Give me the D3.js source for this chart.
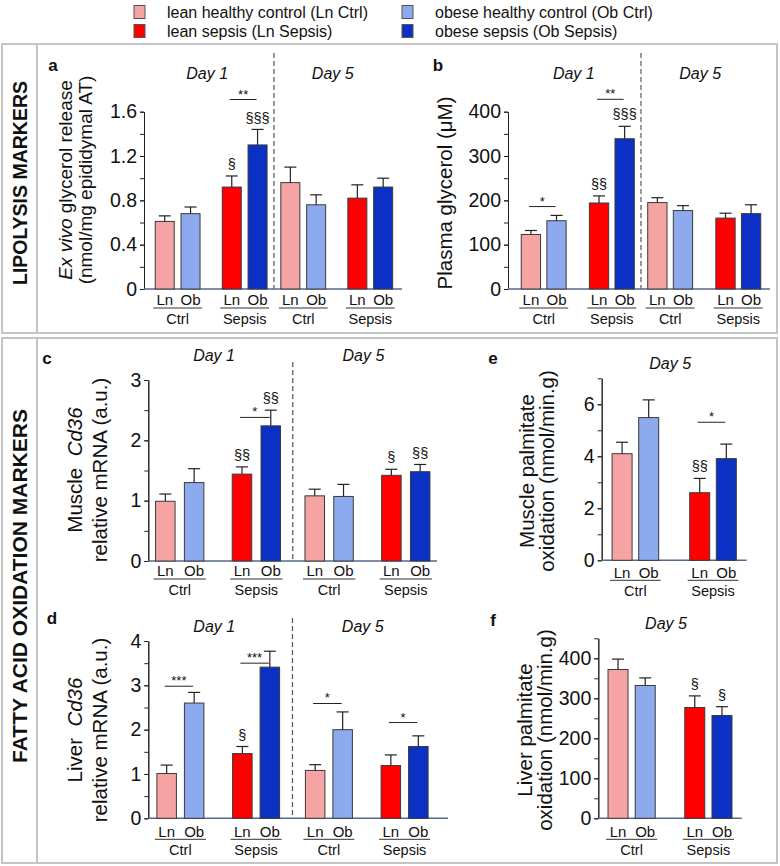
<!DOCTYPE html>
<html>
<head>
<meta charset="utf-8">
<script src="https://cdn.jsdelivr.net/npm/d3@7"></script>
<style>
  body { margin: 0; background: #fff; }
  svg text { font-family: "Liberation Sans", Arial, Helvetica, sans-serif; fill: #111; }
</style>
</head>
<body>
<svg id="fig" width="780" height="866"></svg>
<script>
// categories
const days = ["Day 1", "Day 5"];
const groups = ["Ctrl", "Sepsis"];
const subs = ["Ln", "Ob"];
const legendLabels = [
  "lean healthy control (Ln Ctrl)",
  "obese healthy control (Ob Ctrl)",
  "lean sepsis (Ln Sepsis)",
  "obese sepsis (Ob Sepsis)"
];
const colors = ["#f6a3a3", "#8eaaee", "#ff0000", "#0a30c4"];

// values, order: D1 LnCtrl, D1 ObCtrl, D1 LnSep, D1 ObSep, D5 ...
const glycerolReleaseMean = [0.61, 0.68, 0.92, 1.30, 0.96, 0.76, 0.82, 0.92];
const glycerolReleaseSem  = [0.05, 0.06, 0.10, 0.14, 0.14, 0.09, 0.12, 0.08];
const plasmaGlycerolMean  = [123, 154, 194, 339, 195, 177, 160, 170];
const plasmaGlycerolSem   = [9, 12, 16, 28, 11, 11, 11, 20];
const muscleCd36Mean = [0.99, 1.30, 1.44, 2.24, 1.08, 1.07, 1.42, 1.48];
const muscleCd36Sem  = [0.12, 0.23, 0.12, 0.26, 0.11, 0.20, 0.10, 0.12];
const liverCd36Mean  = [1.01, 2.60, 1.46, 3.41, 1.08, 2.00, 1.19, 1.62];
const liverCd36Sem   = [0.19, 0.24, 0.16, 0.36, 0.13, 0.40, 0.24, 0.24];
// day 5 only: LnCtrl, ObCtrl, LnSep, ObSep
const musclePalmMean = [4.10, 5.49, 2.60, 3.91];
const musclePalmSem  = [0.44, 0.68, 0.55, 0.56];
const liverPalmMean  = [372, 332, 277, 257];
const liverPalmSem   = [26, 19, 29, 22];

// tick labels
const aTicks = [0, 0.4, 0.8, 1.2, 1.6];
const bTicks = [0, 100, 200, 300, 400];
const cTicks = [0, 1, 2, 3];
const dTicks = [0, 1, 2, 3, 4];
const eTicks = [0, 2, 4, 6];
const fTicks = [0, 100, 200, 300, 400];

// significance marks
const aSections = [{ i: 2, t: "§" }, { i: 3, t: "§§§" }];
const aBrackets = [{ i: 2, j: 3, t: "**", level: 1.71 }];
const bSections = [{ i: 2, t: "§§" }, { i: 3, t: "§§§" }];
const bBrackets = [{ i: 0, j: 1, t: "*", level: 186 }, { i: 2, j: 3, t: "**", level: 428 }];
const cSections = [{ i: 2, t: "§§" }, { i: 3, t: "§§" }, { i: 6, t: "§" }, { i: 7, t: "§§" }];
const cBrackets = [{ i: 2, j: 3, t: "*", level: 2.38 }];
const dSections = [{ i: 2, t: "§" }];
const dBrackets = [
  { i: 0, j: 1, t: "***", level: 2.98 },
  { i: 2, j: 3, t: "***", level: 3.50 },
  { i: 4, j: 5, t: "*", level: 2.59 },
  { i: 6, j: 7, t: "*", level: 2.16 }
];
const eSections = [{ i: 2, t: "§§" }];
const eBrackets = [{ i: 2, j: 3, t: "*", level: 5.31 }];
const fSections = [{ i: 2, t: "§" }, { i: 3, t: "§" }];
const fBrackets = [];

const svg = d3.select("#fig");

// frames
svg.append("rect").attr("x", 2).attr("y", 44).attr("width", 775).attr("height", 289)
  .attr("fill", "none").attr("stroke", "#c4c4c4").attr("stroke-width", 2);
svg.append("rect").attr("x", 2).attr("y", 338).attr("width", 775).attr("height", 525)
  .attr("fill", "none").attr("stroke", "#c4c4c4").attr("stroke-width", 2);
[[44, 333], [338, 863]].forEach(([y1, y2]) =>
  svg.append("line").attr("x1", 37).attr("x2", 37).attr("y1", y1).attr("y2", y2)
    .attr("stroke", "#c4c4c4").attr("stroke-width", 2));

svg.append("text").attr("transform", "translate(20,183) rotate(-90)")
  .attr("text-anchor", "middle").attr("dy", "0.35em")
  .attr("font-size", 19.5).attr("font-weight", "bold").text("LIPOLYSIS MARKERS");
svg.append("text").attr("transform", "translate(20,586) rotate(-90)")
  .attr("text-anchor", "middle").attr("dy", "0.35em")
  .attr("font-size", 21).attr("font-weight", "bold").text("FATTY ACID OXIDATION MARKERS");

// legend
const legend = svg.append("g");
legendLabels.forEach((lab, i) => {
  const col = i % 2, row = Math.floor(i / 2);
  const lx = [134, 402][col], ly = [12, 31][row];
  legend.append("rect").attr("x", lx).attr("y", ly - 6.5).attr("width", 11).attr("height", 13)
    .attr("fill", colors[i]).attr("stroke", "#555").attr("stroke-width", 1);
  legend.append("text").attr("x", lx + 33).attr("y", ly).attr("dy", "0.35em")
    .attr("font-size", 16).text(lab);
});

const panels = [
  { letter: "a", lpos: [53, 65], mean: glycerolReleaseMean, sem: glycerolReleaseSem, days: days,
    band: [148.35, 399.55], gpad: 0.437, sp: 25.8, bw: 19, axisX: [144, 402],
    yr: [289, 111.7], dom: [0, 1.6], ticks: aTicks, minor: 0.2,
    fmt: d => d === 0 ? "0" : d3.format(".1f")(d),
    dashTop: 53, dayY: 73, xoff: [11, 19, 30],
    ylab: { cy: 180, size: 19, lines: [
      { x: 65, parts: [["Ex vivo", true], [" glycerol release", false]] },
      { x: 85, parts: [["(nmol/mg epididymal AT)", false]] }] },
    sections: aSections, brackets: aBrackets },
  { letter: "b", lpos: [438, 65], mean: plasmaGlycerolMean, sem: plasmaGlycerolSem, days: days,
    band: [514.55, 767.45], gpad: 0.428, sp: 25.6, bw: 19.3, axisX: [508, 770],
    yr: [289, 111.7], dom: [0, 400], ticks: bTicks, minor: 50, fmt: d3.format("d"),
    dashTop: 53, dayY: 73, xoff: [11, 19, 30],
    ylab: { cy: 193, size: 20.5, lines: [
      { x: 445, parts: [["Plasma glycerol (μM)", false]] }] },
    sections: bSections, brackets: bBrackets },
  { letter: "c", lpos: [47, 358], mean: muscleCd36Mean, sem: muscleCd36Sem, days: days,
    band: [143.35, 442.15], gpad: 0.4746, sp: 28.8, bw: 19.5, axisX: [148.3, 437],
    yr: [561, 380], dom: [0, 3], ticks: cTicks, minor: 0.5, fmt: d3.format("d"),
    dashTop: 362, dayY: 355, xoff: [10, 18, 29],
    ylab: { cy: 470, size: 20.5, lines: [
      { x: 75, parts: [["Muscle  ", false], ["Cd36", true]] },
      { x: 100, parts: [["relative mRNA (a.u.)", false]] }] },
    sections: cSections, brackets: cBrackets },
  { letter: "d", lpos: [52, 618], mean: liverCd36Mean, sem: liverCd36Sem, days: days,
    band: [144, 441], gpad: 0.481, sp: 27.5, bw: 19.5, axisX: [148.3, 448],
    yr: [818.3, 641], dom: [0, 4], ticks: dTicks, minor: 0.5, fmt: d3.format("d"),
    dashTop: 618, dayY: 626, xoff: [13, 21, 32],
    ylab: { cy: 730, size: 20.5, lines: [
      { x: 75, parts: [["Liver  ", false], ["Cd36", true]] },
      { x: 100, parts: [["relative mRNA (a.u.)", false]] }] },
    sections: dSections, brackets: dBrackets },
  { letter: "e", lpos: [493, 358], mean: musclePalmMean, sem: musclePalmSem, days: ["Day 5"],
    band: [601.7, 746.7], gpad: 0.434, sp: 26.6, bw: 20, axisX: [601.7, 746.7],
    yr: [560.3, 378.3], dom: [0, 7], ticks: eTicks, minor: 1, fmt: d3.format("d"),
    dashTop: null, dayY: 363, xoff: [12, 20, 31],
    ylab: { cy: 471, size: 20.5, lines: [
      { x: 527, parts: [["Muscle palmitate", false]] },
      { x: 547, parts: [["oxidation (nmol/min.g)", false]] }] },
    sections: eSections, brackets: eBrackets },
  { letter: "f", lpos: [493, 620], mean: liverPalmMean, sem: liverPalmSem, days: ["Day 5"],
    band: [598.3, 741.7], gpad: 0.434, sp: 27.2, bw: 20, axisX: [598.3, 741.7],
    yr: [818.3, 638.3], dom: [0, 450], ticks: fTicks, minor: 50, fmt: d3.format("d"),
    dashTop: null, dayY: 623, xoff: [13, 21, 32],
    ylab: { cy: 730, size: 20.5, lines: [
      { x: 525, parts: [["Liver palmitate", false]] },
      { x: 545, parts: [["oxidation (nmol/min.g)", false]] }] },
    sections: fSections, brackets: fBrackets }
];

panels.forEach(drawPanel);

function drawPanel(p) {
  const g = svg.append("g");
  const y = d3.scaleLinear().domain(p.dom).range(p.yr);
  const xDay = d3.scaleBand().domain(p.days).range(p.band).padding(0);
  const xGroup = d3.scalePoint().domain(groups).range([0, xDay.bandwidth()]).padding(p.gpad);
  const xSub = d3.scalePoint().domain(subs).range([-p.sp / 2, p.sp / 2]);

  const rows = p.mean.map((m, i) => ({
    i,
    day: p.days[Math.floor(i / 4)],
    group: groups[Math.floor((i % 4) / 2)],
    sub: subs[i % 2],
    mean: m,
    sem: p.sem[i],
    color: colors[i % 4]
  }));
  const cx = d => xDay(d.day) + xGroup(d.group) + xSub(d.sub);
  const y0 = y(0);

  // panel letter
  g.append("text").attr("x", p.lpos[0]).attr("y", p.lpos[1]).attr("dy", "0.35em")
    .attr("text-anchor", "middle").attr("font-size", 17).attr("font-weight", "bold").text(p.letter);

  // y label
  p.ylab.lines.forEach(line => {
    const t = g.append("text")
      .attr("transform", `translate(${line.x},${p.ylab.cy}) rotate(-90)`)
      .attr("text-anchor", "middle").attr("dy", "0.35em")
      .attr("font-size", p.ylab.size).style("white-space", "pre");
    line.parts.forEach(([s, it]) => t.append("tspan").attr("font-style", it ? "italic" : "normal").text(s));
  });

  // day labels
  p.days.forEach(dd => {
    g.append("text").attr("x", xDay(dd) + xDay.bandwidth() / 2 - 4).attr("y", p.dayY)
      .attr("dy", "0.35em").attr("text-anchor", "middle")
      .attr("font-size", 16).attr("font-style", "italic").text(dd);
  });

  // dashed divider
  if (p.days.length > 1) {
    g.append("line").attr("x1", xDay(p.days[1])).attr("x2", xDay(p.days[1]))
      .attr("y1", p.dashTop).attr("y2", y0)
      .attr("stroke", "#555").attr("stroke-width", 1.2).attr("stroke-dasharray", "5,3");
  }

  // y axis
  const minorVals = d3.range(p.dom[0], p.dom[1] + 1e-9, p.minor);
  const ax = g.append("g").attr("transform", `translate(${p.axisX[0]},0)`);
  ax.call(d3.axisLeft(y).tickValues(minorVals).tickSize(4).tickSizeOuter(0).tickFormat(""));
  const axMaj = g.append("g").attr("transform", `translate(${p.axisX[0]},0)`);
  axMaj.call(d3.axisLeft(y).tickValues(p.ticks).tickSize(4).tickSizeOuter(0).tickPadding(3).tickFormat(p.fmt));
  [ax, axMaj].forEach(a => {
    a.selectAll("path, line").attr("stroke", "#222");
    a.selectAll("text").attr("font-size", 19.5).attr("font-family", "Liberation Sans, Arial, sans-serif").attr("fill", "#111");
  });

  // x axis line
  g.append("line").attr("x1", p.axisX[0]).attr("x2", p.axisX[1]).attr("y1", y0).attr("y2", y0)
    .attr("stroke", "#56688f").attr("stroke-width", 1.5);

  // bars
  g.selectAll(".bar").data(rows).join("rect")
    .attr("class", "bar")
    .attr("x", d => cx(d) - p.bw / 2)
    .attr("y", d => y(d.mean))
    .attr("width", p.bw)
    .attr("height", d => y0 - y(d.mean))
    .attr("fill", d => d.color)
    .attr("stroke", "#3a3a3a").attr("stroke-width", 1);

  // error bars (upper only)
  g.selectAll(".err").data(rows).join("line")
    .attr("class", "err")
    .attr("x1", d => cx(d)).attr("x2", d => cx(d))
    .attr("y1", d => y(d.mean)).attr("y2", d => y(d.mean + d.sem))
    .attr("stroke", "#222").attr("stroke-width", 1.2);
  g.selectAll(".cap").data(rows).join("line")
    .attr("class", "cap")
    .attr("x1", d => cx(d) - 6).attr("x2", d => cx(d) + 6)
    .attr("y1", d => y(d.mean + d.sem)).attr("y2", d => y(d.mean + d.sem))
    .attr("stroke", "#222").attr("stroke-width", 1.2);

  // x labels
  g.selectAll(".sublab").data(rows).join("text")
    .attr("class", "sublab")
    .attr("x", d => cx(d)).attr("y", y0 + p.xoff[0]).attr("dy", "0.35em")
    .attr("text-anchor", "middle").attr("font-size", 15).text(d => d.sub);
  const pairs = rows.filter(d => d.sub === "Ln");
  g.selectAll(".uline").data(pairs).join("line")
    .attr("class", "uline")
    .attr("x1", d => cx(d) - p.bw / 2 - 2)
    .attr("x2", d => cx(rows[d.i + 1]) + p.bw / 2 + 2)
    .attr("y1", y0 + p.xoff[1]).attr("y2", y0 + p.xoff[1])
    .attr("stroke", "#333").attr("stroke-width", 1);
  g.selectAll(".grplab").data(pairs).join("text")
    .attr("class", "grplab")
    .attr("x", d => xDay(d.day) + xGroup(d.group)).attr("y", y0 + p.xoff[2]).attr("dy", "0.35em")
    .attr("text-anchor", "middle").attr("font-size", 14.5).text(d => d.group);

  // section marks
  g.selectAll(".sec").data(p.sections).join("text")
    .attr("class", "sec")
    .attr("x", s => cx(rows[s.i]))
    .attr("y", s => y(rows[s.i].mean + rows[s.i].sem) - 12).attr("dy", "0.35em")
    .attr("text-anchor", "middle").attr("font-size", 14.5).text(s => s.t);

  // brackets
  p.brackets.forEach(b => {
    const xa = cx(rows[b.i]) - 2, xb = cx(rows[b.j]) - 1, yl = y(b.level);
    g.append("line").attr("x1", xa).attr("x2", xb).attr("y1", yl).attr("y2", yl)
      .attr("stroke", "#222").attr("stroke-width", 1);
    g.append("text").attr("x", (xa + xb) / 2).attr("y", yl - 1)
      .attr("text-anchor", "middle").attr("font-size", 13).text(b.t);
  });
}
</script>
</body>
</html>
